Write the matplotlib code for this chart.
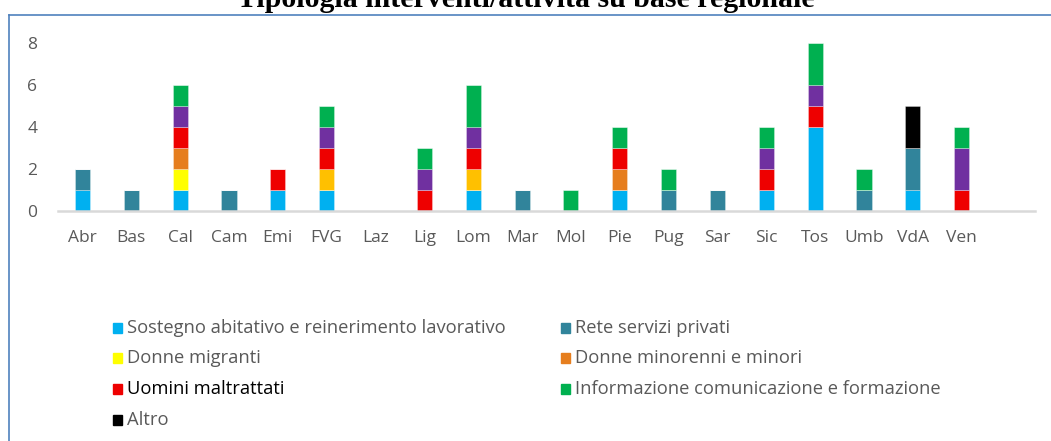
import matplotlib
matplotlib.use("Agg")
import matplotlib.pyplot as plt
from matplotlib.patches import Rectangle
from matplotlib.lines import Line2D
import numpy as np

# ---- data ----
regioni = ["Abr", "Bas", "Cal", "Cam", "Emi", "FVG", "Laz", "Lig", "Lom", "Mar",
           "Mol", "Pie", "Pug", "Sar", "Sic", "Tos", "Umb", "VdA", "Ven"]
sostegno_abitativo = [1, 0, 1, 0, 1, 1, 0, 0, 1, 0, 0, 1, 0, 0, 1, 4, 0, 1, 0]
rete_servizi_privati = [1, 1, 0, 1, 0, 0, 0, 0, 0, 1, 0, 0, 1, 1, 0, 0, 1, 2, 0]
donne_migranti = [0, 0, 1, 0, 0, 0, 0, 0, 0, 0, 0, 0, 0, 0, 0, 0, 0, 0, 0]
donne_minorenni = [0, 0, 1, 0, 0, 0, 0, 0, 0, 0, 0, 1, 0, 0, 0, 0, 0, 0, 0]
serie_oro = [0, 0, 0, 0, 0, 1, 0, 0, 1, 0, 0, 0, 0, 0, 0, 0, 0, 0, 0]
uomini_maltrattati = [0, 0, 1, 0, 1, 1, 0, 1, 1, 0, 0, 1, 0, 0, 1, 1, 0, 0, 1]
serie_viola = [0, 0, 1, 0, 0, 1, 0, 1, 1, 0, 0, 0, 0, 0, 1, 1, 0, 0, 2]
informazione = [0, 0, 1, 0, 0, 1, 0, 1, 2, 0, 1, 1, 1, 0, 1, 2, 1, 0, 1]
altro = [0, 0, 0, 0, 0, 0, 0, 0, 0, 0, 0, 0, 0, 0, 0, 0, 0, 2, 0]

serie = [
    ("Sostegno abitativo e reinerimento lavorativo", sostegno_abitativo, "#00B0F0"),
    ("Rete servizi privati", rete_servizi_privati, "#31849B"),
    ("Donne migranti", donne_migranti, "#FFFF00"),
    ("Donne minorenni e minori", donne_minorenni, "#E67E1E"),
    (None, serie_oro, "#FFC000"),
    ("Uomini maltrattati", uomini_maltrattati, "#EE0000"),
    (None, serie_viola, "#7030A0"),
    ("Informazione comunicazione e formazione", informazione, "#00B050"),
    ("Altro", altro, "#000000"),
]
titolo = "Tipologia interventi/attività su base regionale"

W, H = 1051, 441
fig = plt.figure(figsize=(W / 100, H / 100), dpi=100)

def fx(px):
    return px / W

def fy(py):
    return 1 - py / H

ax = fig.add_axes([fx(58), fy(211), fx(1035) - fx(58), fy(43) - fy(211)])
x = np.arange(len(regioni))
bottom = np.zeros(len(regioni))
for nome, vals, col in serie:
    v = np.array(vals, dtype=float)
    ax.bar(x, v, width=0.31, bottom=bottom, color=col,
           edgecolor=(1, 1, 1, 0.35), linewidth=0.6)
    bottom += v

ax.set_xlim(-0.5, 19.5)
ax.set_ylim(0, 8)
ax.set_yticks([0, 2, 4, 6, 8])
ax.set_xticks(x)
ax.set_xticklabels(regioni)
for s in ["top", "right", "left"]:
    ax.spines[s].set_visible(False)
ax.spines["bottom"].set_color("#D9D9D9")
ax.spines["bottom"].set_linewidth(1.8)
ax.tick_params(axis="both", length=0, labelsize=12.5, labelcolor="#595959")
ax.tick_params(axis="y", pad=15)
ax.tick_params(axis="x", pad=14)
for lab in ax.get_xticklabels() + ax.get_yticklabels():
    lab.set_fontfamily("Open Sans")

# frame
fig.add_artist(Line2D([fx(9), 1.0], [fy(14.5), fy(14.5)], color="#4F81BD", lw=1.2))
fig.add_artist(Line2D([fx(9), fx(9)], [fy(14.5), 0.0], color="#4F81BD", lw=1.2))

# title (partly cut at top, as in the reference)
fig.text(0.5, fy(7), titolo, ha="center", va="baseline",
         fontfamily="Liberation Serif", fontweight="bold", fontsize=21.5, color="#000000")

# legend
voci = [s for s in serie if s[0] is not None]
col_x = [113, 561]
row_y = [328, 358, 389, 420]
for i, (nome, vals, col) in enumerate(voci):
    r, c = divmod(i, 2)
    xm, ym = col_x[c], row_y[r]
    fig.add_artist(Rectangle((fx(xm), fy(ym + 5)), fx(9), 10 / H, color=col,
                             transform=fig.transFigure))
    tc = "#000000" if nome == "Uomini maltrattati" else "#595959"
    fig.text(fx(xm + 14), fy(ym), nome, ha="left", va="center",
             fontfamily="Open Sans", fontsize=13.2, color=tc)

fig.savefig("out.png", dpi=100)
